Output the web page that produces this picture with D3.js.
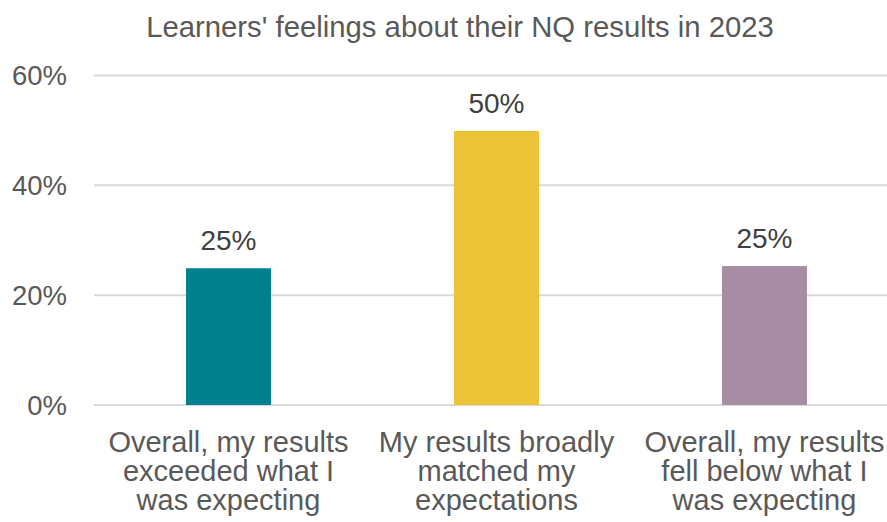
<!DOCTYPE html>
<html>
<head>
<meta charset="utf-8">
<script src="https://cdn.jsdelivr.net/npm/d3@7"></script>
<style>
  html, body { margin: 0; padding: 0; background: #ffffff; }
  svg { display: block; font-family: "Liberation Sans", Arial, sans-serif; }
</style>
</head>
<body>
<svg id="chart" width="887" height="522"></svg>
<script>
// Survey responses: share of learners per answer
const chartTitle = "Learners' feelings about their NQ results in 2023";
const categories = [
  "Overall, my results exceeded what I was expecting",
  "My results broadly matched my expectations",
  "Overall, my results fell below what I was expecting"
];
const values = [0.249, 0.499, 0.253];
const barColors = ["#007F8D", "#EBC335", "#A68DA4"];
const yTicks = [0, 0.2, 0.4, 0.6];

const svg = d3.select("#chart");
const W = 887;

const x = d3.scaleBand()
  .domain(categories)
  .range([94.5, 898.5])
  .paddingInner(0.683)
  .paddingOuter(0.3415);

const y = d3.scaleLinear()
  .domain([0, 0.6])
  .range([405, 75.5]);

const pct = d3.format(".0%");

// Title
svg.append("text")
  .attr("x", 460)
  .attr("y", 37)
  .attr("text-anchor", "middle")
  .attr("font-size", 29.3)
  .attr("fill", "#595959")
  .text(chartTitle);

// Gridlines
svg.append("g")
  .selectAll("line")
  .data(yTicks)
  .join("line")
  .attr("x1", 94)
  .attr("x2", W)
  .attr("y1", d => y(d))
  .attr("y2", d => y(d))
  .attr("stroke", "#D9D9D9")
  .attr("stroke-width", 2);

// Y axis tick labels
svg.append("g")
  .selectAll("text")
  .data(yTicks)
  .join("text")
  .attr("x", 67)
  .attr("y", d => y(d) + 9.5)
  .attr("text-anchor", "end")
  .attr("font-size", 27.5)
  .attr("fill", "#595959")
  .text(d => pct(d));

// Bars
svg.append("g")
  .selectAll("rect")
  .data(values)
  .join("rect")
  .attr("x", (d, i) => x(categories[i]))
  .attr("width", x.bandwidth())
  .attr("y", d => y(d))
  .attr("height", d => y(0) - y(d))
  .attr("fill", (d, i) => barColors[i]);

// Value labels
svg.append("g")
  .selectAll("text")
  .data(values)
  .join("text")
  .attr("x", (d, i) => x(categories[i]) + x.bandwidth() / 2)
  .attr("y", d => y(d) - 18)
  .attr("text-anchor", "middle")
  .attr("font-size", 28)
  .attr("fill", "#404040")
  .text(d => pct(d));

// Category labels, wrapped to the band width
const maxLine = 252;
const catG = svg.append("g");
categories.forEach((c, i) => {
  const t = catG.append("text")
    .attr("text-anchor", "middle")
    .attr("font-size", 29)
    .attr("fill", "#595959");
  const cx = x(c) + x.bandwidth() / 2;
  const words = c.split(" ");
  let lines = [];
  let cur = [];
  const probe = svg.append("text").attr("font-size", 29).attr("visibility", "hidden");
  words.forEach(w => {
    const test = cur.concat([w]).join(" ");
    probe.text(test);
    if (probe.node().getComputedTextLength() > maxLine && cur.length) {
      lines.push(cur.join(" "));
      cur = [w];
    } else {
      cur.push(w);
    }
  });
  lines.push(cur.join(" "));
  probe.remove();
  lines.forEach((ln, k) => {
    t.append("tspan")
      .attr("x", cx)
      .attr("y", 452 + k * 29)
      .text(ln);
  });
});
</script>
</body>
</html>
